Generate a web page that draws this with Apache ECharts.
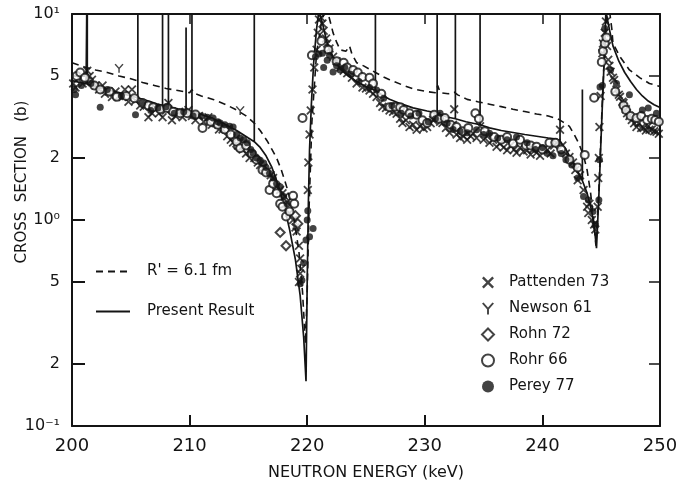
<!DOCTYPE html>
<html><head><meta charset="utf-8">
<script src="https://cdn.jsdelivr.net/npm/echarts@6/dist/echarts.min.js"></script>
<style>html,body{margin:0;padding:0;background:#fff}#c{width:677px;height:481px}</style>
</head><body><div id="c"></div>
<script>
const xTicks = [200, 210, 220, 230, 240, 250];
const yTickValues = [0.1, 0.2, 0.5, 1, 2, 5, 10];
const yTickLabels = ['10⁻¹', '2', '5', '10⁰', '2', '5', '10¹'];
const xTitle = 'NEUTRON ENERGY (keV)';
const yTitle = 'CROSS  SECTION   (b)';
const lineNames = ["R' = 6.1 fm", 'Present Result'];
const pointNames = ['Pattenden 73', 'Newson 61', 'Rohn 72', 'Rohr 66', 'Perey 77'];

// Present Result (solid) — energy keV, cross section b ; narrow resonances as spikes
const presentResult = [
[200.0,4.75],[201.2,4.58],[201.3,4.55],[201.3,20],[201.3,4.55],[202.0,4.45],[203.0,4.3],[204.0,4.15],[205.0,4.0],
[205.6,3.92],[205.6,20],[205.6,3.92],[206.5,3.78],[207.2,3.66],[207.7,3.6],[207.7,20],[207.7,3.6],
[208.2,3.54],[208.2,20],[208.2,3.54],[209.0,3.46],[209.7,3.4],[209.7,8.6],[209.7,3.4],[210.2,3.35],[210.2,20],[210.2,3.35],
[211.0,3.25],[212.0,3.1],[213.0,2.92],[214.0,2.72],[215.0,2.5],[215.5,2.4],[215.5,20],[215.5,2.4],[216.0,2.25],
[216.5,2.05],[217.0,1.8],[217.5,1.5],[218.0,1.2],[218.5,0.9],[219.0,0.64],[219.4,0.43],[219.7,0.27],[219.9,0.165],
[220.0,0.5],[220.1,1.2],[220.2,2.2],[220.35,3.6],[220.55,5.8],[220.8,8.5],[221.0,10.4],[221.3,9.0],[221.6,7.6],
[221.9,6.7],[222.3,6.0],[222.8,5.4],[223.5,5.0],[224.2,4.7],[225.0,4.45],[225.8,4.25],[225.8,20],[225.8,4.25],
[226.5,4.0],[227.0,3.86],[228.0,3.66],[229.0,3.5],[230.2,3.38],[231.05,3.3],[231.05,20],[231.05,3.3],[231.8,3.17],
[232.6,3.1],[232.6,20],[232.6,3.1],[233.5,3.0],[234.7,2.9],[234.7,20],[234.7,2.9],[235.5,2.8],[236.5,2.72],
[237.5,2.66],[238.5,2.6],[239.5,2.55],[240.5,2.5],[241.2,2.47],[241.5,2.42],[241.5,20],[241.5,2.42],[242.0,2.2],
[242.5,1.95],[243.0,1.72],[243.4,1.55],[243.4,4.3],[243.4,1.55],[243.8,1.35],[244.2,1.1],[244.45,0.88],[244.6,0.73],
[244.8,1.3],[245.0,2.6],[245.2,5.0],[245.4,10.3],[245.7,8.4],[246.0,7.0],[246.5,5.9],[247.0,5.2],[247.5,4.7],
[248.0,4.3],[248.5,4.0],[249.0,3.78],[249.5,3.63],[250.0,3.52]
];

// R' = 6.1 fm (dashed)
const rPrime61 = [
[200.0,5.8],[201.0,5.55],[202.0,5.35],[203.0,5.2],[204.0,5.0],[205.0,4.85],[206.0,4.65],[207.0,4.5],[208.0,4.35],
[209.0,4.25],[210.0,4.15],[210.2,4.3],[210.4,4.12],[211.0,4.0],[212.0,3.85],[213.0,3.65],[214.0,3.42],[214.8,3.2],
[215.5,2.95],[216.0,2.72],[216.6,2.42],[217.0,2.2],[217.4,2.0],[217.8,1.75],[218.1,1.55],[218.5,1.3],[218.9,1.0],
[219.3,0.7],[219.6,0.45],[219.85,0.25],[220.0,0.45],[220.15,1.1],[220.4,3.0],[220.8,6.5],[221.2,9.0],[221.6,11],
[222.0,9.0],[222.2,8.1],[222.5,7.3],[222.8,6.7],[223.3,6.6],[223.6,7.0],[223.8,6.4],[224.2,5.8],[224.8,5.6],
[225.8,5.2],[226.5,4.95],[227.0,4.8],[228.2,4.5],[229.0,4.33],[230.2,4.2],[230.9,4.15],[231.1,4.5],[231.3,4.15],
[232.0,4.1],[232.5,4.18],[232.8,4.05],[233.6,3.85],[234.5,3.75],[235.5,3.65],[236.5,3.55],[237.5,3.45],[238.5,3.36],
[239.5,3.27],[240.5,3.2],[241.3,3.1],[241.8,2.98],[242.3,2.85],[242.7,2.6],[243.1,2.35],[243.5,2.05],[243.8,1.75],
[244.1,1.35],[244.35,1.0],[244.55,0.75],[244.8,1.4],[245.0,2.8],[245.2,5.2],[245.45,9.5],[245.65,11],[245.9,8.5],
[246.0,7.2],[246.6,6.2],[247.4,5.35],[248.3,4.9],[249.1,4.6],[250.0,4.45]
];

const pattenden73 = [
[200.1,4.6],[200.3,4.4],[200.6,4.9],[200.9,4.6],[201.3,5.3],[201.5,5.0],[201.7,4.8],[202.0,4.5],[202.3,4.3],[202.6,4.5],
[202.8,4.1],[203.1,4.2],[203.4,3.95],[203.7,4.2],[204.0,4.0],[204.3,3.95],[204.5,4.3],[204.8,3.75],[205.1,4.3],[205.4,3.8],
[205.8,3.6],[206.1,3.55],[206.5,3.15],[206.8,3.3],[207.1,3.5],[207.4,3.3],[207.7,3.15],[208.0,3.4],[208.2,3.7],[208.5,3.05],
[208.8,3.2],[209.1,3.35],[209.4,3.15],[209.7,3.3],[209.9,3.42],[210.2,3.2],[210.5,3.05],[210.8,3.2],[211.2,3.0],[211.6,3.15],
[211.9,2.9],[212.2,2.95],[212.5,2.75],[212.8,2.75],[213.2,2.55],[213.5,2.45],[213.7,2.38],[214.1,2.3],[214.5,2.2],[214.8,2.1],
[215.1,2.0],[215.5,2.0],[215.8,1.9],[216.0,1.85],[216.3,1.8],[216.6,1.72],[216.9,1.65],[217.1,1.6],[217.4,1.45],[217.7,1.4],
[217.9,1.35],[218.1,1.3],[218.3,1.22],[218.5,1.08],[218.8,1.0],[219.0,0.92],[219.1,0.88],[219.3,0.75],[219.4,0.65],[219.5,0.58],
[219.4,0.55],[219.3,0.5],
[220.05,1.4],[220.1,1.9],[220.2,2.6],[220.3,3.4],[220.45,4.3],[220.6,5.5],[220.8,6.7],[220.9,8.1],[221.0,9.4],
[221.2,9.6],[221.3,9.0],[221.4,8.3],[221.6,7.6],[221.7,7.2],[221.9,6.8],[222.2,6.2],[222.5,5.9],[222.8,5.5],[223.1,5.3],
[223.4,5.15],[223.8,4.9],[224.2,4.6],[224.7,4.4],[225.0,4.35],[225.3,4.25],[225.6,4.1],[225.9,3.95],[226.2,3.7],[226.4,3.55],
[226.7,3.5],[227.0,3.4],[227.3,3.35],[227.6,3.28],[227.9,3.1],[228.1,2.96],[228.4,3.05],[228.7,2.83],[229.0,2.9],[229.3,2.74],
[229.6,2.85],[229.9,2.78],[230.2,2.83],[230.5,2.95],[230.7,3.06],[231.0,3.2],[231.3,3.0],[231.5,2.96],[231.8,2.8],[232.1,2.65],
[232.4,2.9],[232.5,3.45],[232.7,2.6],[233.0,2.5],[233.3,2.55],[233.6,2.45],[233.9,2.55],[234.1,2.64],[234.4,2.5],[234.7,2.85],
[235.0,2.45],[235.3,2.55],[235.5,2.37],[235.8,2.45],[236.1,2.27],[236.4,2.35],[236.7,2.25],[237.0,2.18],[237.3,2.3],[237.6,2.2],
[237.8,2.12],[238.1,2.25],[238.4,2.15],[238.7,2.18],[239.0,2.08],[239.2,2.2],[239.5,2.12],[239.8,2.05],[240.1,2.2],[240.4,2.18],
[240.7,2.1],[241.0,2.3],[241.2,2.37],[241.5,2.74],[241.7,2.3],[242.0,2.1],[242.3,2.02],[242.6,1.9],[242.8,1.75],[243.0,1.56],
[243.2,1.65],[243.5,1.4],[243.8,1.16],[243.9,1.08],[244.0,1.2],[244.2,1.0],[244.4,0.95],[244.5,0.9],
[244.7,1.16],[244.75,1.6],[244.8,2.0],[244.85,2.83],[244.95,4.0],[245.1,6.45],[245.15,7.2],[245.3,8.1],[245.4,9.2],
[245.5,7.0],[245.6,6.0],[245.7,5.6],[245.8,5.25],[246.0,4.9],[246.1,4.78],[246.3,4.3],[246.5,4.05],[246.6,3.96],[246.8,3.75],
[246.9,3.7],[247.1,3.45],[247.2,3.3],[247.4,3.2],[247.6,3.06],[247.8,2.95],[248.0,2.83],[248.2,2.95],[248.4,2.8],[248.6,2.8],
[248.8,2.72],[249.0,2.85],[249.1,2.74],[249.3,2.75],[249.5,2.7],[249.7,2.68],[249.9,2.62]
];

const newson61 = [[204.0,5.45],[214.3,3.4]];

const rohn72 = [[214.1,2.27],[217.7,0.87],[218.2,0.75],[219.0,1.05],[219.2,0.96]];

const rohr66 = [
[200.4,5.0],[200.7,5.2],[201.1,4.9],[201.9,4.5],[202.4,4.3],[203.2,4.2],[203.8,3.96],[204.6,4.0],[205.3,3.9],[206.0,3.7],
[206.5,3.6],[206.9,3.53],[207.5,3.45],[208.1,3.5],[208.6,3.35],[209.2,3.3],[209.8,3.3],[210.5,3.25],[211.1,2.8],[211.8,3.0],
[212.4,2.9],[213.0,2.75],[213.5,2.6],[214.0,2.4],[214.3,2.23],[214.8,2.3],[215.3,2.1],[215.7,1.96],[216.2,1.75],[216.5,1.7],
[216.8,1.4],[217.1,1.5],[217.4,1.35],[217.7,1.2],[217.9,1.16],[218.2,1.04],[218.5,1.1],[218.8,1.31],[218.9,1.2],[219.6,3.13],
[220.4,6.3],[221.2,7.4],[221.8,6.7],[222.5,5.9],[223.1,5.8],[223.4,5.5],[223.9,5.35],[224.3,5.2],[224.7,4.95],[225.3,4.9],
[225.6,4.6],[226.3,4.1],[227.0,3.53],[227.5,3.55],[227.9,3.53],[228.2,3.42],[228.7,3.3],[229.3,3.24],[229.8,3.05],[230.2,2.96],
[230.8,3.24],[231.2,3.1],[231.7,3.13],[232.2,2.9],[232.7,2.83],[233.2,2.7],[233.7,2.8],[234.3,3.3],[234.6,3.1],[235.1,2.7],
[235.9,2.53],[236.5,2.45],[237.0,2.53],[237.5,2.35],[238.1,2.45],[238.6,2.3],[239.0,2.3],[239.5,2.27],[240.0,2.2],[240.6,2.37],
[241.1,2.37],[241.6,2.2],[242.3,1.96],[243.0,1.8],[243.6,2.07],[244.4,3.92],
[245.05,5.85],[245.15,6.6],[245.3,7.2],[245.45,7.7],[246.2,4.2],[246.9,3.6],[247.1,3.42],[247.5,3.2],[248.0,3.13],[248.4,3.2],
[248.9,3.06],[249.3,3.1],[249.6,3.06],[249.9,3.0]
];

const perey77 = [
[200.2,4.3],[200.3,4.05],[200.8,4.5],[201.6,4.6],[202.4,3.53],[203.0,4.3],[204.2,4.0],[205.4,3.24],[206.0,3.7],[206.7,3.4],
[207.3,3.5],[208.0,3.55],[208.7,3.3],[209.5,3.35],[210.3,3.2],[211.0,3.2],[211.5,3.15],[212.0,3.13],[212.4,3.0],[212.6,2.96],
[213.0,2.9],[213.4,2.85],[213.7,2.83],[214.0,2.6],[214.3,2.5],[214.6,2.45],[214.9,2.37],[215.2,2.2],[215.4,2.11],[215.7,2.0],
[216.0,1.95],[216.3,1.89],[216.5,1.8],[216.8,1.68],[217.1,1.6],[217.4,1.5],[217.7,1.45],[218.0,1.3],[218.3,1.2],[219.4,0.49],
[219.55,0.51],[219.7,0.62],[219.9,0.8],[220.0,1.0],[220.05,1.11],[220.2,0.83],[220.5,0.91],
[220.7,6.2],[221.0,6.4],[221.3,6.45],[221.4,5.5],[221.7,5.97],[221.9,6.3],[222.2,5.23],[222.5,5.6],[222.8,5.35],[223.2,5.5],
[223.7,5.1],[224.4,4.7],[225.3,4.4],[225.9,4.28],[226.5,3.9],[227.2,3.6],[228.0,3.3],[228.8,3.2],[229.5,3.3],[230.3,3.0],
[230.9,3.1],[231.3,3.3],[231.9,2.95],[232.4,2.75],[233.0,2.7],[233.6,2.65],[234.4,2.74],[235.0,2.6],[235.5,2.64],[236.2,2.5],
[237.0,2.45],[237.8,2.53],[238.7,2.37],[239.4,2.2],[240.0,2.25],[240.4,2.11],[240.9,2.05],[241.6,2.1],[242.0,1.96],[242.5,1.85],
[243.0,1.6],[243.5,1.3],[243.9,1.25],[244.3,1.1],[244.5,0.95],
[244.8,1.25],[244.85,1.96],[244.9,4.42],[245.1,4.5],[245.3,8.5],
[245.8,5.35],[246.3,4.6],[247.4,4.05],[248.5,3.42],[249.0,3.5],[249.7,3.3]
];

const INK = '#141414';
const FONT = 'DejaVu Sans';
const X_SYM = 'path://M0,1.4L1.4,0L5,3.6L8.6,0L10,1.4L6.4,5L10,8.6L8.6,10L5,6.4L1.4,10L0,8.6L3.6,5Z';
const Y_SYM = 'path://M0,0.9L1.3,0L5,4.1L8.7,0L10,0.9L5.8,5.6L5.8,10L4.2,10L4.2,5.6Z';

const chart = echarts.init(document.getElementById('c'), null, {renderer: 'canvas'});
const labelFor = v => { const i = yTickValues.findIndex(t => Math.abs(t - v) / t < 1e-6); return i >= 0 ? yTickLabels[i] : ''; };

chart.setOption({
  animation: false,
  backgroundColor: '#fff',
  textStyle: {fontFamily: FONT, color: INK},
  grid: {left: 72, right: 17, top: 14, bottom: 55, outerBoundsMode: 'none', containLabel: false},
  legend: [
    {data: lineNames, orient: 'vertical', left: 90, top: 259, itemWidth: 34, itemHeight: 14, itemGap: 25,
     itemStyle: {opacity: 0},
     textStyle: {fontFamily: FONT, fontSize: 15, color: INK, padding: [0, 0, 0, 12]}, selectedMode: false},
    {data: pointNames, orient: 'vertical', left: 476, top: 270, itemWidth: 12, itemHeight: 12, itemGap: 11,
     textStyle: {fontFamily: FONT, fontSize: 15, color: INK, padding: [0, 0, 0, 10]}, selectedMode: false}
  ],
  graphic: [{type: 'text', x: 22, y: 182, rotation: Math.PI / 2,
    style: {text: yTitle, fontFamily: FONT, fontSize: 15, fill: INK, align: 'center', verticalAlign: 'middle'}}],
  xAxis: [
    {type: 'value', min: xTicks[0], max: xTicks[xTicks.length - 1], interval: 10, position: 'bottom',
     name: xTitle, nameLocation: 'middle', nameGap: 39,
     nameTextStyle: {fontFamily: FONT, fontSize: 16, color: INK},
     axisLine: {lineStyle: {color: INK, width: 2}},
     axisTick: {inside: true, length: 11, lineStyle: {color: INK, width: 2}},
     axisLabel: {fontFamily: FONT, fontSize: 18, color: INK, margin: 11},
     splitLine: {show: false}},
    {type: 'value', min: xTicks[0], max: xTicks[xTicks.length - 1], interval: 10, position: 'top',
     axisLine: {lineStyle: {color: INK, width: 2}},
     axisTick: {inside: true, length: 10, lineStyle: {color: INK, width: 1.5}},
     axisLabel: {show: false}, splitLine: {show: false}}
  ],
  yAxis: [
    {type: 'log', min: yTickValues[0], max: yTickValues[yTickValues.length - 1], position: 'left',
     axisLine: {show: true, lineStyle: {color: INK, width: 2}},
     axisTick: {show: true, inside: true, length: 13, customValues: yTickValues, lineStyle: {color: INK, width: 2}},
     axisLabel: {show: true, customValues: yTickValues, formatter: v => labelFor(v), fontFamily: FONT, fontSize: 16, color: INK, margin: 12},
     splitLine: {show: false}, minorTick: {show: false}},
    {type: 'log', min: yTickValues[0], max: yTickValues[yTickValues.length - 1], position: 'right',
     axisLine: {show: true, lineStyle: {color: INK, width: 2}},
     axisTick: {show: true, inside: true, length: 11, customValues: yTickValues, lineStyle: {color: INK, width: 1.5}},
     axisLabel: {show: false}, splitLine: {show: false}}
  ],
  series: [
    {name: lineNames[0], type: 'line', data: rPrime61, symbol: 'none', clip: true, z: 3,
     lineStyle: {color: INK, width: 1.6, type: [7, 5]}, itemStyle: {color: INK}},
    {name: lineNames[1], type: 'line', data: presentResult, symbol: 'none', clip: true, z: 3,
     lineStyle: {color: INK, width: 1.7}, itemStyle: {color: INK}},
    {name: pointNames[0], type: 'scatter', data: pattenden73, symbol: X_SYM, symbolSize: 9, itemStyle: {color: INK}, z: 4},
    {name: pointNames[1], type: 'scatter', data: newson61, symbol: Y_SYM, symbolSize: 9, itemStyle: {color: INK}, z: 4},
    {name: pointNames[2], type: 'scatter', data: rohn72, symbol: 'emptyDiamond', symbolSize: 9, itemStyle: {color: INK, borderWidth: 1.4}, z: 4},
    {name: pointNames[3], type: 'scatter', data: rohr66, symbol: 'emptyCircle', symbolSize: 8, itemStyle: {color: INK, borderWidth: 1.4}, z: 4},
    {name: pointNames[4], type: 'scatter', data: perey77, symbol: 'circle', symbolSize: 7, itemStyle: {color: INK}, z: 4}
  ]
});
</script>
</body></html>
